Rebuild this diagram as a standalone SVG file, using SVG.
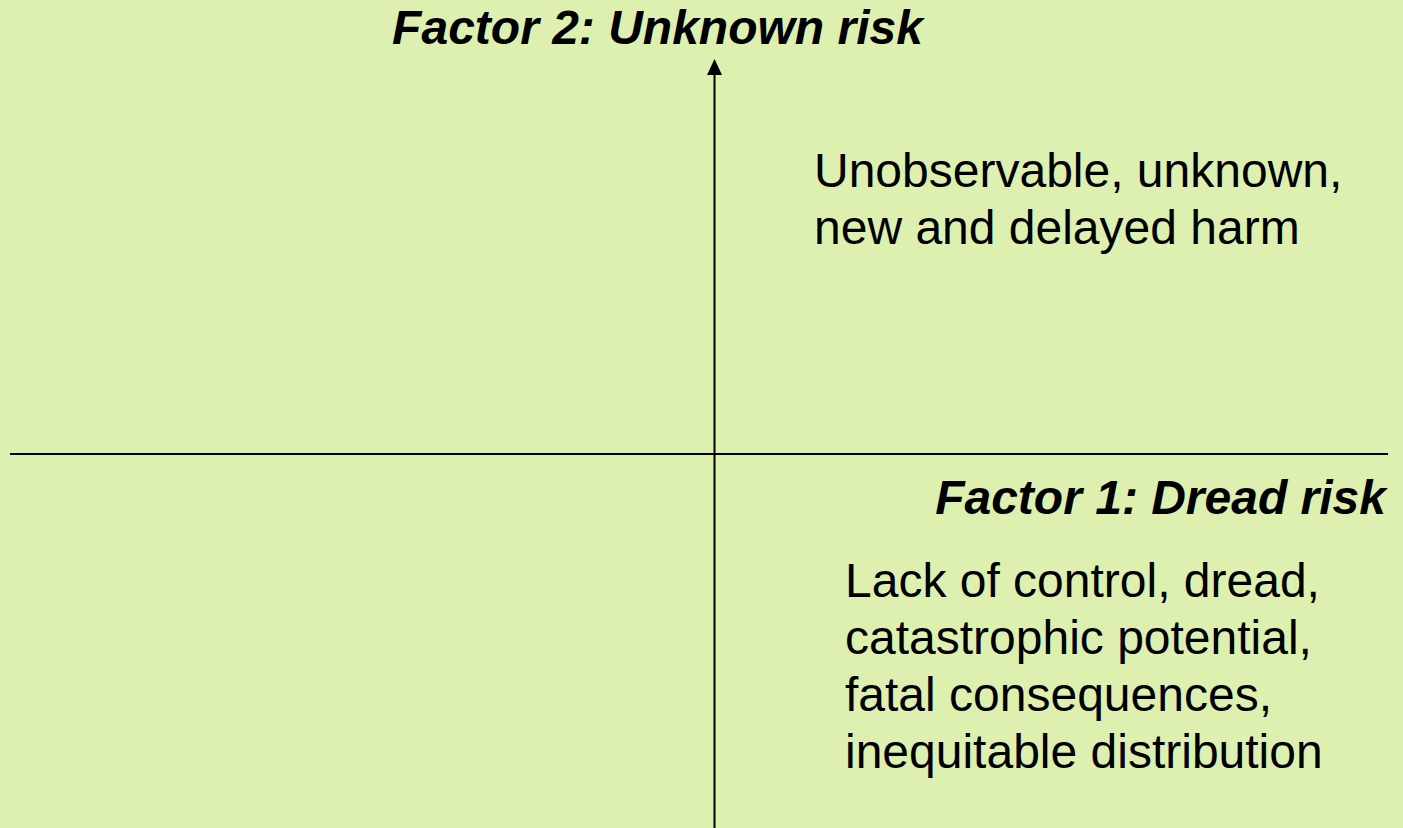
<svg xmlns="http://www.w3.org/2000/svg" width="1403" height="828" viewBox="0 0 1403 828">
<style>
.t{font-family:"Liberation Sans",Arial,sans-serif;font-size:48px;fill:#000}
.h{font-weight:bold;font-style:italic}
.ax{stroke:#000;stroke-width:2;fill:none}
</style>
<defs>
<marker id="ah" viewBox="0 0 16 15" refX="0" refY="7.5" markerWidth="16" markerHeight="15" markerUnits="userSpaceOnUse" orient="auto">
<path d="M0,0 L16,7.5 L0,15 Z" fill="#000"/>
</marker>
</defs>
<rect width="1403" height="828" fill="#ddf0b0"/>
<g id="connectors">
<line class="ax" x1="714.5" y1="828" x2="714.5" y2="75" marker-end="url(#ah)"/>
<line class="ax" x1="10" y1="454" x2="1388" y2="454"/>
</g>
<g id="factor2"><text class="t h" x="657.5" y="44" text-anchor="middle">Factor 2: Unknown risk</text></g>
<g id="factor1"><text class="t h" x="1386" y="514" text-anchor="end">Factor 1: Dread risk</text></g>
<g id="unknown-desc"><text class="t" x="814" y="187">Unobservable, unknown,<tspan x="814" y="244">new and delayed harm</tspan></text></g>
<g id="dread-desc"><text class="t" x="845" y="597">Lack of control, dread,<tspan x="845" y="654">catastrophic potential,</tspan><tspan x="845" y="711">fatal consequences,</tspan><tspan x="845" y="768">inequitable distribution</tspan></text></g>
</svg>
